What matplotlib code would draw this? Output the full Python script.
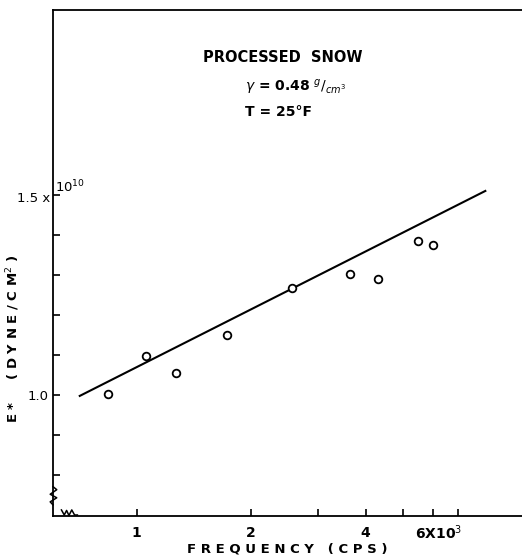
import matplotlib
matplotlib.use("Agg")
from matplotlib import pyplot as plt
from matplotlib.transforms import blended_transform_factory

# measured points, frequency in cps, E* in units of 1e10 dyne/cm^2
freq = [841, 1060, 1273, 1723, 2565, 3631, 4318, 5483, 6000]
e_star = [1.004, 1.098, 1.055, 1.150, 1.267, 1.302, 1.290, 1.385, 1.374]

# fitted straight line (ends)
fit_freq = [709, 8250]
fit_e = [0.998, 1.51]

x_ticks = [1000, 2000, 3000, 4000, 5000, 6000, 7000]
x_labels = ["1", "2", "", "4", "", "", ""]
y_ticks = [0.8, 0.9, 1.0, 1.1, 1.2, 1.3, 1.4, 1.5]
y_labels = ["", "", "1.0", "", "", "", "", ""]

plt.rcParams['font.family'] = ['DejaVu Sans']

fig = plt.figure(figsize=(5.22, 5.58), dpi=100)
ax = fig.add_axes([53 / 522, 1 - 516 / 558, 1 - 53 / 522, 506 / 558])

ax.plot(fit_freq, fit_e, color='black', lw=1.5)
ax.plot(freq, e_star, 'o', mfc='white', mec='black', mew=1.3, ms=5.5)

ax.set_xscale('log')
ax.set_xlim(603, 10300)
ax.set_ylim(0.698, 1.962)

ax.set_xticks(x_ticks)
ax.set_xticklabels(x_labels, fontsize=10, fontweight='bold')
ax.xaxis.set_minor_locator(matplotlib.ticker.NullLocator())
ax.set_yticks(y_ticks)
ax.set_yticklabels(y_labels, fontsize=9.5)
ax.tick_params(direction='in', length=5, width=1.2, colors='black')
ax.tick_params(axis='x', pad=7)
ax.tick_params(axis='y', pad=3)

for s in ['left', 'top', 'bottom']:
    ax.spines[s].set_linewidth(1.3)
ax.spines['right'].set_visible(False)

# 6x10^3 label
tx = blended_transform_factory(ax.transData, ax.transAxes)
ax.text(5400, -0.014, r"6X10$^3$", transform=tx, ha='left', va='top',
        fontsize=10, fontweight='bold')

# 1.5 x 10^10 label
ty = blended_transform_factory(ax.transAxes, ax.transData)
ax.text(-0.005, 1.49, "1.5 x", transform=ty, ha='right', va='center', fontsize=9.5)
ax.text(0.005, 1.5, r"10$^{10}$", transform=ty, ha='left', va='bottom', fontsize=9.5)

# axis breaks
ax.plot([0.0, 0.008, -0.006, 0.008, -0.006, 0.0],
        [0.058, 0.052, 0.043, 0.036, 0.028, 0.022],
        transform=ax.transAxes, color='black', lw=1.1, clip_on=False)
ax.plot([0.018, 0.024, 0.029, 0.034, 0.040, 0.046, 0.052],
        [0.012, 0.002, 0.011, 0.001, 0.012, 0.002, 0.002],
        transform=ax.transAxes, color='black', lw=1.1, clip_on=False)

ax.set_xlabel("F R E Q U E N C Y   ( C P S )", fontsize=9.5, fontweight='bold', labelpad=2)
ax.set_ylabel(r"E *     ( D Y N E / C M$^2$ )", fontsize=9.5, fontweight='bold')
ax.yaxis.set_label_coords(-0.066, 0.35)

ax.text(0.32, 0.898, "PROCESSED  SNOW", transform=ax.transAxes, fontsize=10.5,
        fontweight='bold')
ax.text(0.41, 0.838, r"$\gamma$ = 0.48 $^g/_{cm^3}$", transform=ax.transAxes,
        fontsize=10, fontweight='bold')
ax.text(0.41, 0.79, "T = 25°F", transform=ax.transAxes, fontsize=10,
        fontweight='bold')

plt.savefig("out.png", dpi=100)
